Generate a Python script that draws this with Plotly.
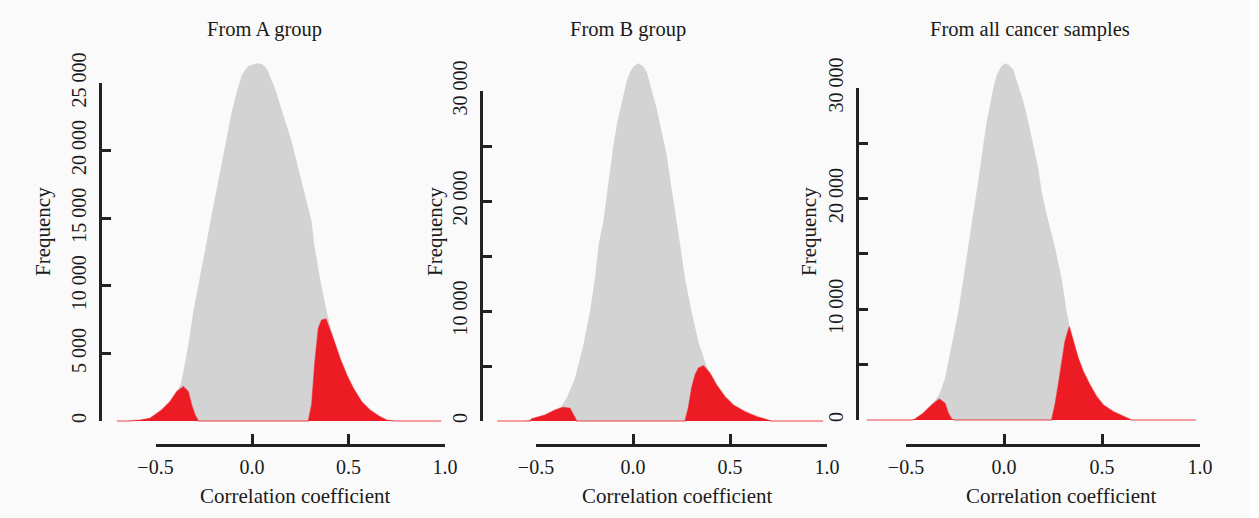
import plotly.graph_objects as go

# ---------------- data ----------------
X_TICKS = [-0.5, 0.0, 0.5, 1.0]
X_TICK_TEXT = ["\u22120.5", "0.0", "0.5", "1.0"]

Y_TICKS_A = [0, 5000, 10000, 15000, 20000, 25000]
Y_TEXT_A = ["0", "5 000", "10 000", "15 000", "20 000", "25 000"]
Y_TICKS_BC = [0, 5000, 10000, 15000, 20000, 25000, 30000]
Y_TEXT_BC = ["0", "", "10 000", "", "20 000", "", "30 000"]

TITLES = ["From A group", "From B group", "From all cancer samples"]
X_TITLE = "Correlation coefficient"
Y_TITLE = "Frequency"

GRAY_A_X = [-0.70, -0.64, -0.58, -0.528, -0.468, -0.425, -0.39, -0.37, -0.356, -0.330, -0.304, -0.269,
            -0.238, -0.209, -0.183, -0.157, -0.131, -0.105, -0.079, -0.053, -0.02, 0.024, 0.05, 0.076,
            0.119, 0.162, 0.206, 0.240, 0.275, 0.309, 0.322, 0.352, 0.387, 0.421, 0.456, 0.491, 0.525,
            0.568, 0.611, 0.663, 0.698, 0.74, 0.98]
GRAY_A_Y = [0, 0, 70, 197, 814, 1430, 2170, 2700, 3650, 5620, 8090, 10560,
            13020, 15240, 17210, 19180, 21150, 22880, 24360, 25590, 26250, 26460, 26400, 26090,
            24610, 22630, 20660, 18690, 16720, 14740, 13100, 10560, 8090, 6110, 4640, 3400, 2420,
            1430, 810, 320, 70, 0, 0]
RED_A_X = [-0.70, -0.64, -0.58, -0.528, -0.468, -0.425, -0.39, -0.356, -0.330, -0.313, -0.295, -0.278,
           0.292, 0.309, 0.326, 0.344, 0.361, 0.383, 0.421, 0.456, 0.491, 0.525, 0.568, 0.611, 0.663,
           0.698, 0.74, 0.98]
RED_A_Y = [0, 0, 70, 197, 814, 1430, 2170, 2540, 2170, 1180, 440, 0,
           0, 1180, 4390, 6860, 7470, 7540, 6110, 4640, 3400, 2420, 1430, 810, 320,
           70, 0, 0]

GRAY_B_X = [-0.70, -0.56, -0.53, -0.505, -0.454, -0.40, -0.37, -0.342, -0.299, -0.256, -0.222, -0.196,
            -0.177, -0.153, -0.136, -0.119, -0.101, -0.081, -0.058, -0.033, -0.015, 0.005, 0.027, 0.05,
            0.071, 0.096, 0.122, 0.148, 0.174, 0.191, 0.208, 0.225, 0.242, 0.268, 0.302, 0.337, 0.363,
            0.380, 0.397, 0.431, 0.474, 0.517, 0.577, 0.638, 0.68, 0.715, 0.98]
GRAY_B_Y = [0, 0, 150, 303, 545, 1000, 1350, 2060, 3880, 6910, 9940, 12970,
            16100, 18120, 20550, 22970, 25090, 27210, 29030, 30850, 31760, 32250, 32520, 32300,
            31760, 30240, 28420, 26300, 24180, 22060, 19940, 17820, 16150, 12970, 9940, 7210, 5900,
            4940, 4333, 3270, 2210, 1455, 848, 394, 180, 0, 0]
RED_B_X = [-0.70, -0.53, -0.522, -0.505, -0.454, -0.402, -0.359, -0.325, -0.308, -0.29,
           0.268, 0.285, 0.302, 0.320, 0.337, 0.363, 0.397, 0.431, 0.474, 0.517, 0.577, 0.638,
           0.68, 0.715, 0.98]
RED_B_Y = [0, 0, 200, 303, 545, 1000, 1240, 1150, 545, 0,
           0, 1150, 2970, 4180, 4790, 5030, 4333, 3270, 2210, 1455, 848, 394,
           180, 0, 0]

GRAY_C_X = [-0.70, -0.47, -0.454, -0.412, -0.369, -0.33, -0.301, -0.267, -0.233, -0.207, -0.18, -0.157,
            -0.139, -0.122, -0.106, -0.088, -0.071, -0.055, -0.037, -0.015, 0.005, 0.025, 0.048, 0.073,
            0.099, 0.124, 0.150, 0.175, 0.192, 0.218, 0.256, 0.294, 0.320, 0.333, 0.354, 0.379, 0.405,
            0.439, 0.473, 0.507, 0.558, 0.609, 0.651, 0.98]
GRAY_C_Y = [0, 0, 90, 605, 1355, 2300, 3770, 6780, 9780, 12800, 15900, 18520,
            20620, 22740, 24840, 26950, 28460, 29960, 31170, 31900, 32220, 32100, 31620, 30260,
            28750, 26950, 24840, 22740, 20620, 18520, 15900, 12800, 9780, 8600, 7073, 5570, 4366,
            3162, 2108, 1355, 753, 301, 0, 0]
RED_C_X = [-0.70, -0.47, -0.454, -0.412, -0.369, -0.330, -0.301, -0.284, -0.267, -0.25,
           0.243, 0.26, 0.277, 0.294, 0.311, 0.333, 0.354, 0.379, 0.405, 0.439, 0.473, 0.507,
           0.558, 0.609, 0.651, 0.98]
RED_C_Y = [0, 0, 90, 605, 1355, 1900, 1510, 605, 90, 0,
           0, 1355, 3162, 5270, 7073, 8430, 7073, 5570, 4366, 3162, 2108, 1355,
           753, 301, 0, 0]

# ---------------- styling / geometry ----------------
W, H = 1259, 518
FONT = "Liberation Serif, Times New Roman, serif"
TXT = "#1a1a1a"
AX = "#222222"
GRAY = "rgb(211,211,211)"
RED = "rgb(237,28,36)"
BG = "#fafafa"

X_MIN, X_MAX = -0.72, 1.0
PLOT_TOP_PX, PLOT_BOT_PX = 45, 426
XAXIS_PX = 445

panels = [
    dict(gx=GRAY_A_X, gy=GRAY_A_Y, rx=RED_A_X, ry=RED_A_Y, yt=Y_TICKS_A, ytt=Y_TEXT_A,
         zx=252, sx=193, zy=421, sy=13.52 / 1000, yax=100,
         t=(264, 30), yl=(43, 232), xl=(295, 496)),
    dict(gx=GRAY_B_X, gy=GRAY_B_Y, rx=RED_B_X, ry=RED_B_Y, yt=Y_TICKS_BC, ytt=Y_TEXT_BC,
         zx=633, sx=194, zy=421, sy=11.0 / 1000, yax=481,
         t=(628, 30), yl=(435, 232), xl=(677, 496)),
    dict(gx=GRAY_C_X, gy=GRAY_C_Y, rx=RED_C_X, ry=RED_C_Y, yt=Y_TICKS_BC, ytt=Y_TEXT_BC,
         zx=1004, sx=196, zy=420, sy=11.07 / 1000, yax=857,
         t=(1030, 30), yl=(809, 232), xl=(1061, 496)),
]


def xdom(p0, p1):
    return [max(0, p0 / W), min(1, p1 / W)]


def ydom(top, bottom):
    return [max(0, 1 - bottom / H), min(1, 1 - top / H)]


fig = go.Figure()
layout = dict(template="none", width=W, height=H, margin=dict(l=0, r=0, t=0, b=0, pad=0),
              autosize=False, paper_bgcolor=BG, plot_bgcolor="rgba(0,0,0,0)", showlegend=False,
              font=dict(family=FONT, color=TXT, size=20))
annotations = []

for i, p in enumerate(panels):
    k = i + 1
    xd = "x" if k == 1 else f"x{k}"
    yd = "y" if k == 1 else f"y{k}"
    xv = f"x{k + 3}"
    yv = f"y{k + 3}"
    ymax_tick = p["yt"][-1]

    # data axes (hidden)
    layout["xaxis" if k == 1 else f"xaxis{k}"] = dict(
        domain=xdom(p["zx"] + p["sx"] * X_MIN, p["zx"] + p["sx"] * X_MAX),
        range=[X_MIN, X_MAX], visible=False, fixedrange=True, anchor=yd, automargin=False)
    layout["yaxis" if k == 1 else f"yaxis{k}"] = dict(
        domain=ydom(PLOT_TOP_PX, PLOT_BOT_PX),
        range=[(p["zy"] - PLOT_BOT_PX) / p["sy"], (p["zy"] - PLOT_TOP_PX) / p["sy"]],
        visible=False, fixedrange=True, anchor=xd, automargin=False)

    # displayed axes (R-style, offset, limited span)
    layout[f"xaxis{k + 3}"] = dict(
        domain=xdom(p["zx"] + p["sx"] * X_TICKS[0], p["zx"] + p["sx"] * X_TICKS[-1]),
        range=[X_TICKS[0], X_TICKS[-1]], anchor="free", position=1 - XAXIS_PX / H,
        showline=True, linecolor=AX, linewidth=3, ticks="inside", ticklen=10, tickwidth=3,
        tickcolor=AX, tickvals=X_TICKS, ticktext=X_TICK_TEXT, showgrid=False, zeroline=False,
        fixedrange=True, tickfont=dict(size=20, family=FONT, color=TXT), ticklabelstandoff=3,
        automargin=False)
    layout[f"yaxis{k + 3}"] = dict(
        domain=ydom(p["zy"] - ymax_tick * p["sy"], p["zy"]),
        range=[0, ymax_tick], anchor="free", position=p["yax"] / W, side="left",
        showline=True, linecolor=AX, linewidth=3, ticks="inside", ticklen=9, tickwidth=3,
        tickcolor=AX, tickvals=p["yt"], ticktext=p["ytt"], tickangle=-90, showgrid=False,
        zeroline=False, fixedrange=True, tickfont=dict(size=20, family=FONT, color=TXT),
        ticklabelstandoff=5, automargin=False)

    fig.add_trace(go.Scatter(x=p["gx"], y=p["gy"], xaxis=xd, yaxis=yd, mode="lines",
                             fill="tozeroy", fillcolor=GRAY, line=dict(width=0, color=GRAY),
                             hoverinfo="skip"))
    fig.add_trace(go.Scatter(x=p["rx"], y=p["ry"], xaxis=xd, yaxis=yd, mode="lines",
                             fill="tozeroy", fillcolor=RED,
                             line=dict(width=1.3, color="rgba(237,28,36,0.55)"),
                             hoverinfo="skip"))
    # anchors for the displayed axes
    fig.add_trace(go.Scatter(x=[X_TICKS[0], X_TICKS[-1]], y=[0, 0], xaxis=xv, yaxis=yd,
                             mode="markers", marker=dict(opacity=0), hoverinfo="skip"))
    fig.add_trace(go.Scatter(x=[0, 0], y=[0, ymax_tick], xaxis=xd, yaxis=yv,
                             mode="markers", marker=dict(opacity=0), hoverinfo="skip"))

    annotations.append(dict(text=TITLES[i], x=p["t"][0] / W, y=1 - p["t"][1] / H, xref="paper",
                            yref="paper", xanchor="center", yanchor="middle", showarrow=False,
                            font=dict(size=20.5, family=FONT, color=TXT)))
    annotations.append(dict(text=X_TITLE, x=p["xl"][0] / W, y=1 - p["xl"][1] / H, xref="paper",
                            yref="paper", xanchor="center", yanchor="middle", showarrow=False,
                            font=dict(size=21, family=FONT, color=TXT)))
    annotations.append(dict(text=Y_TITLE, x=p["yl"][0] / W, y=1 - p["yl"][1] / H, xref="paper",
                            yref="paper", xanchor="center", yanchor="middle", showarrow=False,
                            textangle=-90, font=dict(size=21, family=FONT, color=TXT)))

layout["annotations"] = annotations
layout["shapes"] = [dict(type="rect", xref="paper", yref="paper", x0=1250 / W, x1=1, y0=0, y1=1,
                         fillcolor="white", line=dict(width=0), layer="below")]
fig.update_layout(**layout)
fig.write_html("out.html", config={"displayModeBar": False},
               post_script="document.body.style.margin='0';document.body.style.overflow='hidden';")
